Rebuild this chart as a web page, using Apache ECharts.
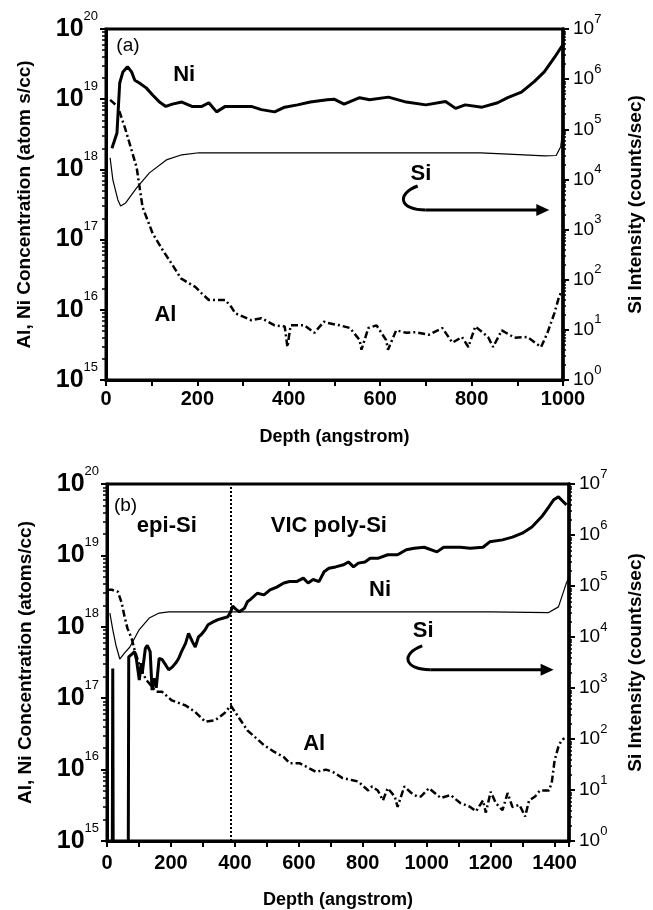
<!DOCTYPE html>
<html><head><meta charset="utf-8">
<script src="https://cdn.jsdelivr.net/npm/echarts@6/dist/echarts.min.js"></script>
<style>html,body{margin:0;padding:0;background:#fff}#c{width:653px;height:910px}</style>
</head><body><div id="c"></div>
<script>
// ---------- Panel (a) data ----------
const niA_depth = [13,24,30,37,47,56,63,73,88,102,117,131,145,166,188,210,225,242,261,290,318,340,369,391,419,447,484,499,521,555,577,618,657,700,743,765,786,823,857,879,909,937,959,981,996,1000];
const niA_conc = [2.0e18,3.3e18,1.7e19,2.45e19,2.9e19,2.45e19,1.86e19,1.7e19,1.45e19,1.15e19,9.1e18,7.9e18,8.5e18,9.1e18,7.9e18,7.9e18,8.9e18,6.6e18,7.9e18,7.9e18,7.9e18,7.1e18,6.6e18,7.7e18,8.3e18,9.1e18,9.8e18,1.0e19,8.5e18,1.05e19,9.8e18,1.07e19,9.1e18,8.3e18,9.3e18,7.4e18,8.3e18,7.7e18,8.9e18,1.05e19,1.26e19,1.78e19,2.45e19,3.9e19,5.5e19,5.9e19];
const siA_depth = [9,15,26,32,43,67,95,132,166,203,300,400,500,600,700,820,880,960,985,995,1000];
const siA_counts = [2.7e4,9.8e3,3.9e3,2.95e3,3.4e3,6.8e3,1.35e4,2.45e4,3.1e4,3.4e4,3.4e4,3.4e4,3.4e4,3.4e4,3.4e4,3.4e4,3.2e4,2.95e4,3.0e4,4.5e4,1.0e5];
const alA_depth = [9,26,41,52,67,80,102,124,145,164,196,210,225,261,274,283,318,340,369,391,397,404,434,456,477,484,512,534,555,559,574,592,613,617,635,657,678,706,736,758,779,793,808,836,847,866,894,922,952,966,981,991,998];
const alA_conc = [9.8e18,7.8e18,4.0e18,2.3e18,1.07e18,2.9e17,1.23e17,7.1e16,4.4e16,2.8e16,2.1e16,1.7e16,1.38e16,1.38e16,1.1e16,8.9e15,7.1e15,7.6e15,6.0e15,5.8e15,2.95e15,6.0e15,6.0e15,4.7e15,6.8e15,6.5e15,6.0e15,5.5e15,3.7e15,2.7e15,5.5e15,6.0e15,3.7e15,2.7e15,5.1e15,4.7e15,4.8e15,4.4e15,5.5e15,3.4e15,4.1e15,2.95e15,5.8e15,4.1e15,2.95e15,5.1e15,4.0e15,4.1e15,2.95e15,4.7e15,8.9e15,1.5e16,1.9e16];

// ---------- Panel (b) data ----------
const niB_depth = [15,18,21,65,68,77,86,92,101,107,110,120,126,135,141,147,154,163,172,184,193,203,215,224,233,246,255,261,267,276,286,295,307,316,332,347,362,378,387,393,402,414,430,439,448,470,491,510,531,553,571,593,614,629,645,663,679,694,715,740,755,771,786,807,823,847,878,909,936,961,992,1032,1053,1105,1136,1176,1197,1237,1268,1299,1329,1360,1382,1397,1412,1428,1437];
const niB_conc = [1e12,2.6e17,1e12,1e12,3.8e17,4.1e17,4.5e17,3.5e17,1.8e17,3.1e17,2.2e17,5.0e17,5.5e17,4.5e17,1.3e17,1.9e17,1.4e17,3.6e17,3.5e17,2.9e17,2.5e17,2.7e17,3.1e17,3.6e17,4.5e17,5.9e17,8.1e17,8.5e17,6.2e17,5.2e17,7.2e17,7.8e17,9.1e17,1.07e18,1.17e18,1.26e18,1.32e18,1.38e18,1.62e18,1.95e18,1.78e18,1.62e18,1.82e18,2.24e18,2.4e18,2.95e18,2.8e18,3.3e18,3.6e18,4.1e18,4.3e18,4.3e18,4.8e18,4.1e18,4.6e18,4.3e18,5.9e18,6.6e18,6.9e18,7.4e18,8.1e18,6.9e18,7.8e18,8.1e18,9.1e18,9.1e18,1.02e19,1.02e19,1.2e19,1.26e19,1.3e19,1.12e19,1.3e19,1.3e19,1.26e19,1.3e19,1.55e19,1.65e19,1.8e19,2.05e19,2.5e19,3.5e19,4.8e19,6.0e19,6.6e19,5.6e19,5.1e19];
const siB_depth = [9,18,28,40,55,71,101,132,163,193,400,600,800,1000,1200,1380,1412,1437,1445];
const siB_counts = [2.95e4,1.4e4,6.9e3,3.7e3,4.9e3,6.3e3,1.4e4,2.35e4,2.95e4,3.1e4,3.1e4,3.1e4,3.1e4,3.1e4,3.1e4,3.0e4,3.9e4,1.15e5,1.5e5];
const alB_depth = [0,15,34,46,55,64,77,86,105,123,154,172,203,246,276,307,338,368,387,418,439,461,491,522,553,571,602,623,654,685,706,737,768,786,817,829,847,863,878,900,909,930,952,970,982,1007,1044,1075,1105,1136,1154,1176,1185,1200,1216,1237,1253,1268,1290,1308,1320,1339,1354,1382,1391,1400,1412,1422,1431];
const alB_conc = [3.3e18,3.3e18,3.1e18,2.15e18,1.38e18,9.5e17,6.9e17,4.8e17,2.6e17,1.8e17,1.23e17,1.23e17,9.3e16,7.9e16,6.4e16,4.7e16,4.9e16,6.2e16,7.9e16,4.9e16,3.55e16,2.9e16,2.2e16,1.78e16,1.5e16,1.23e16,1.23e16,1.1e16,9.3e15,1.0e16,9.3e15,7.6e15,7.1e15,6.8e15,5.1e15,5.8e15,5.1e15,3.7e15,5.5e15,4.2e15,3.0e15,5.8e15,4.7e15,4.2e15,4.2e15,5.5e15,4.0e15,4.4e15,3.4e15,3.0e15,2.6e15,3.7e15,2.5e15,4.9e15,3.4e15,2.7e15,4.7e15,3.0e15,3.2e15,2.2e15,3.7e15,4.2e15,5.1e15,5.1e15,6.5e15,1.35e16,2.1e16,2.6e16,2.75e16];
const interfaceDepthB = 388;

// ---------- tick labels ----------
const xTickLabelsA = [0,200,400,600,800,1000];
const xTickLabelsB = [0,200,400,600,800,1000,1200,1400];

// ---------- annotations (data coordinates on left axis) ----------
const textA = [
  {t:'(a)', d:48, v:5.8e19, bold:false, size:19},
  {t:'Ni', d:171, v:2.2e19, bold:true, size:22},
  {t:'Si', d:689, v:8.5e17, bold:true, size:22},
  {t:'Al', d:130, v:8.5e15, bold:true, size:22}
];
const textB = [
  {t:'(b)', d:58, v:4.9e19, bold:false, size:19},
  {t:'epi-Si', d:187, v:2.6e19, bold:true, size:22},
  {t:'VIC poly-Si', d:694, v:2.6e19, bold:true, size:22},
  {t:'Ni', d:854, v:3.3e18, bold:true, size:22},
  {t:'Si', d:989, v:8.7e17, bold:true, size:22},
  {t:'Al', d:648, v:2.3e16, bold:true, size:22}
];
const arrowA = {from:[682, 5.8e17], to:[970, 2.63e17]};
const arrowB = {from:[986, 5.4e17], to:[1397, 2.5e17]};

const FONT = '"Liberation Sans", Arial, Helvetica, sans-serif';
const pairs = (xs, ys) => xs.map((x, i) => [x, ys[i]]);

function xAxisCfg(grid, max, labels, margin, nameGap) {
  return {
    type: 'value', gridIndex: grid, min: 0, max: max, interval: 100,
    name: 'Depth (angstrom)', nameLocation: 'middle', nameGap: nameGap,
    nameTextStyle: {fontFamily: FONT, fontWeight: 'bold', fontSize: 18, color: '#000'},
    axisLine: {show: true, onZero: false, lineStyle: {color: '#000', width: 3}},
    axisTick: {show: true, length: 6, lineStyle: {color: '#000', width: 2}},
    axisLabel: {margin: margin, fontFamily: FONT, fontWeight: 'bold', fontSize: 20, color: '#000',
      formatter: v => labels.indexOf(Math.round(v)) >= 0 ? String(Math.round(v)) : ''},
    splitLine: {show: false}
  };
}
const richL = {
  b: {fontFamily: FONT, fontWeight: 'bold', fontSize: 25, lineHeight: 24, padding: [8,0,8,0], color: '#000'},
  e: {fontFamily: FONT, fontSize: 13, lineHeight: 14, padding: [0,0,26,0], color: '#000'}
};
const richR = {
  b: {fontFamily: FONT, fontSize: 19, lineHeight: 19, padding: [7,0,7,0], color: '#000'},
  e: {fontFamily: FONT, fontSize: 13, lineHeight: 13, padding: [0,0,20,0], color: '#000'}
};
const expFmt = v => '{b|10}{e|' + Math.round(Math.log10(v)) + '}';

function yLeft(grid, name) {
  return {
    type: 'log', logBase: 10, gridIndex: grid, position: 'left', min: 1e15, max: 1e20, splitNumber: 5,
    name: name, nameLocation: 'middle', nameRotate: 90, nameGap: 72,
    nameTextStyle: {fontFamily: FONT, fontWeight: 'bold', fontSize: 19, color: '#000'},
    axisLine: {show: true, lineStyle: {color: '#000', width: 3}},
    axisTick: {show: true, length: 6, lineStyle: {color: '#000', width: 2}},
    minorTick: {show: true, splitNumber: 9, length: 4, lineStyle: {color: '#000', width: 1.5}},
    axisLabel: {margin: 8, formatter: expFmt, rich: richL},
    splitLine: {show: false}, minorSplitLine: {show: false}
  };
}
function yRight(grid, gap) {
  return {
    type: 'log', logBase: 10, gridIndex: grid, position: 'right', min: 1, max: 1e7, splitNumber: 7,
    name: 'Si Intensity (counts/sec)', nameLocation: 'middle', nameRotate: 90, nameGap: gap,
    nameTextStyle: {fontFamily: FONT, fontWeight: 'bold', fontSize: 19, color: '#000'},
    axisLine: {show: true, lineStyle: {color: '#000', width: 3.5}},
    axisTick: {show: true, length: 6, lineStyle: {color: '#000', width: 2}},
    minorTick: {show: true, splitNumber: 9, length: 3, lineStyle: {color: '#000', width: 1.5}},
    axisLabel: {margin: 10, formatter: expFmt, rich: richR},
    splitLine: {show: false}, minorSplitLine: {show: false}
  };
}
const lineNi = {type: 'line', showSymbol: false, symbol: 'none', lineStyle: {color: '#000', width: 3}, z: 3};
const lineSi = {type: 'line', showSymbol: false, symbol: 'none', lineStyle: {color: '#000', width: 1.2}, z: 2};
const lineAl = {type: 'line', showSymbol: false, symbol: 'none', lineStyle: {color: '#000', width: 2.5, type: [7,3,2,3]}, z: 2};

const chart = echarts.init(document.getElementById('c'));
chart.setOption({
  backgroundColor: '#fff',
  animation: false,
  grid: [
    {left: 106, top: 29, width: 463, height: 351, show: true, borderColor: '#000', borderWidth: 3, backgroundColor: 'transparent'},
    {left: 107, top: 484, width: 470, height: 357, show: true, borderColor: '#000', borderWidth: 3, backgroundColor: 'transparent'}
  ],
  xAxis: [
    xAxisCfg(0, 1000, xTickLabelsA, 9, 48),
    xAxisCfg(1, 1445, xTickLabelsB, 12, 50)
  ],
  yAxis: [
    yLeft(0, 'Al, Ni Concentration (atom s/cc)'),
    yRight(0, 63),
    yLeft(1, 'Al, Ni Concentration (atoms/cc)'),
    yRight(1, 57)
  ],
  series: [
    Object.assign({name: 'Ni (a)', xAxisIndex: 0, yAxisIndex: 0, data: pairs(niA_depth, niA_conc)}, lineNi),
    Object.assign({name: 'Si (a)', xAxisIndex: 0, yAxisIndex: 1, data: pairs(siA_depth, siA_counts)}, lineSi),
    Object.assign({name: 'Al (a)', xAxisIndex: 0, yAxisIndex: 0, data: pairs(alA_depth, alA_conc)}, lineAl),
    Object.assign({name: 'Ni (b)', xAxisIndex: 1, yAxisIndex: 2, data: pairs(niB_depth, niB_conc)}, lineNi),
    Object.assign({name: 'Si (b)', xAxisIndex: 1, yAxisIndex: 3, data: pairs(siB_depth, siB_counts)}, lineSi),
    Object.assign({name: 'Al (b)', xAxisIndex: 1, yAxisIndex: 2, data: pairs(alB_depth, alB_conc),
      markLine: {silent: true, symbol: ['none','none'], label: {show: false},
        lineStyle: {color: '#000', width: 2, type: [2,2]},
        data: [{xAxis: interfaceDepthB}]}}, lineAl)
  ]
});

function buildGraphics() {
  const els = [];
  const addTexts = (list, xi, yi) => {
    list.forEach(a => {
      const p = chart.convertToPixel({xAxisIndex: xi, yAxisIndex: yi}, [a.d, a.v]);
      els.push({type: 'text', x: p[0], y: p[1], z: 10,
        style: {text: a.t, fill: '#000', font: (a.bold ? 'bold ' : '') + a.size + 'px ' + FONT,
          textAlign: 'center', textVerticalAlign: 'middle'}});
    });
  };
  const addArrow = (ar, xi, yi) => {
    const s = chart.convertToPixel({xAxisIndex: xi, yAxisIndex: yi}, ar.from);
    const e = chart.convertToPixel({xAxisIndex: xi, yAxisIndex: yi}, ar.to);
    const st = {stroke: '#000', lineWidth: 3, fill: null};
    els.push({type: 'bezierCurve', z: 10, shape: {x1: s[0], y1: s[1], cpx1: s[0] - 22, cpy1: s[1] + 8,
      cpx2: s[0] - 18, cpy2: e[1], x2: s[0] + 8, y2: e[1]}, style: st});
    els.push({type: 'line', z: 10, shape: {x1: s[0] + 8, y1: e[1], x2: e[0] - 10, y2: e[1]}, style: st});
    els.push({type: 'polygon', z: 10, shape: {points: [[e[0], e[1]], [e[0] - 13, e[1] - 6], [e[0] - 13, e[1] + 6]]},
      style: {fill: '#000'}});
  };
  addTexts(textA, 0, 0);
  addTexts(textB, 1, 2);
  addArrow(arrowA, 0, 0);
  addArrow(arrowB, 1, 2);
  chart.setOption({graphic: els});
}
buildGraphics();
</script>
</body></html>
